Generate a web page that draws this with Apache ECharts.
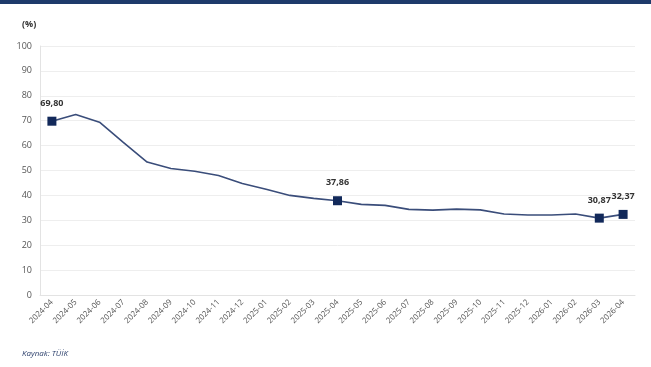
<!DOCTYPE html>
<html><head><meta charset="utf-8">
<script src="https://cdn.jsdelivr.net/npm/echarts@6/dist/echarts.min.js"></script>
<style>html,body{margin:0;padding:0;background:#fff}#c{width:651px;height:367px}</style>
</head><body><div id="c"></div>
<script>
const categories = ['2024-04','2024-05','2024-06','2024-07','2024-08','2024-09','2024-10','2024-11','2024-12','2025-01','2025-02','2025-03','2025-04','2025-05','2025-06','2025-07','2025-08','2025-09','2025-10','2025-11','2025-12','2026-01','2026-02','2026-03','2026-04'];
const values = [69.80,72.5,69.4,61.3,53.4,50.8,49.7,48.0,44.8,42.5,40.0,38.8,37.86,36.4,36.0,34.4,34.1,34.5,34.2,32.5,32.1,32.1,32.5,30.87,32.37];
const highlighted = [0,12,23,24];
const yTicks = [0,10,20,30,40,50,60,70,80,90,100];

const chart = echarts.init(document.getElementById('c'));
const fmt = v => v.toFixed(2).replace('.', ',');
chart.setOption({
  animation:false,
  graphic:[
    {type:'rect',shape:{x:0,y:0,width:651,height:4},style:{fill:'#1e3a6b'}},
    {type:'text',left:22,top:20,style:{text:'(%)',font:'bold 9px "Open Sans", sans-serif',fill:'#333'}},
    {type:'text',left:22,top:350,style:{text:'Kaynak: TÜİK',font:'italic 8px "Open Sans", sans-serif',fill:'#2b3f6b'}}
  ],
  grid:{left:40,right:16,top:46,bottom:72},
  xAxis:{type:'category',data:categories,boundaryGap:true,
    axisLine:{lineStyle:{color:'#e3e3e3'}},axisTick:{show:false},
    axisLabel:{rotate:45,fontSize:8,color:'#555',margin:6,interval:0,fontFamily:'Open Sans'}},
  yAxis:{type:'value',min:0,max:100,interval:10,
    axisLine:{show:true,lineStyle:{color:'#e3e3e3'}},
    splitLine:{lineStyle:{color:'#eeeeee'}},
    axisLabel:{fontSize:9,color:'#555',margin:8,fontFamily:'Open Sans',
      formatter:v=>yTicks.includes(v)?String(v):''}},
  series:[{type:'line',data:values.map((v,i)=>highlighted.includes(i)?{value:v,symbol:'rect',symbolSize:9,
      label:{show:true,position:'top',distance:9,formatter:()=>fmt(v),fontSize:9,fontWeight:'bold',color:'#333',fontFamily:'Open Sans'}}:{value:v,symbol:'none'}),
    showAllSymbol:true,
    lineStyle:{color:'#3a4d7a',width:1.6},
    itemStyle:{color:'#12295a'}}]
});
</script></body></html>
